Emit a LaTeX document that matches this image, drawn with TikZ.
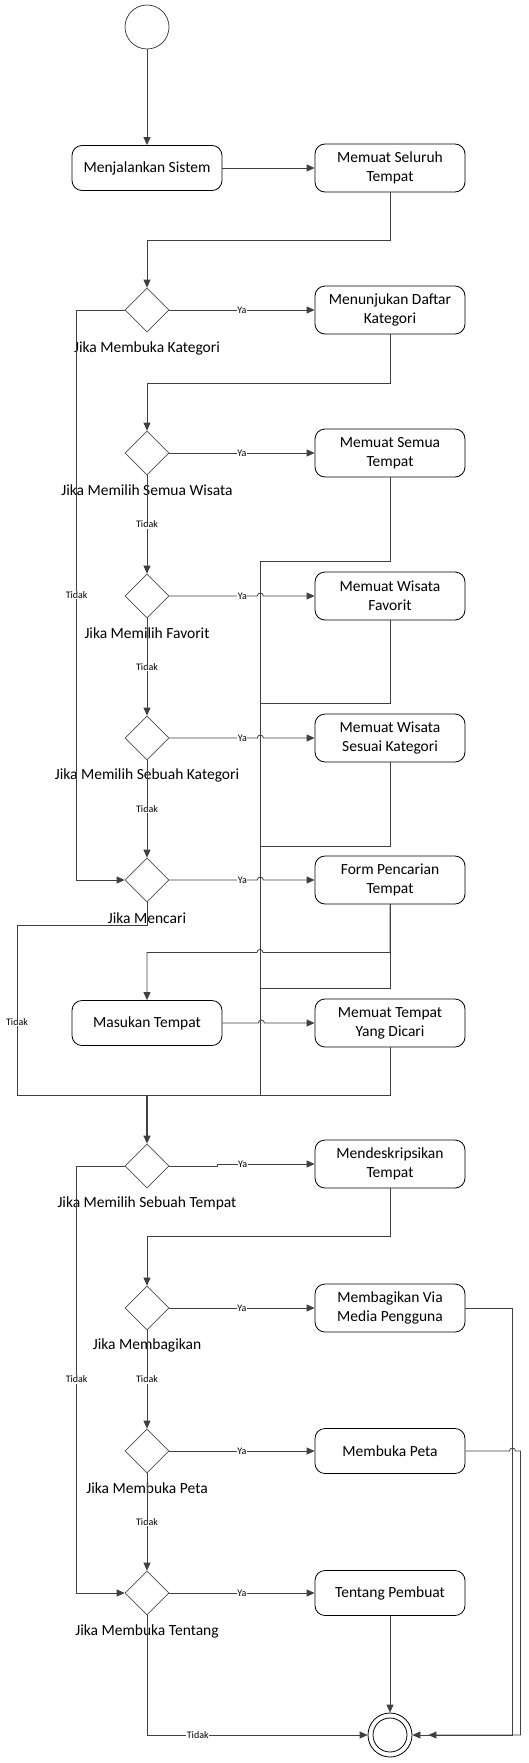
\documentclass[tikz,border=0pt]{standalone}
\usepackage{fontspec}
\setmainfont{Carlito}
\usetikzlibrary{shapes.geometric,arrows.meta,calc}
\begin{document}
\begin{tikzpicture}[x=1pt,y=-1pt,
 act/.style={draw=black, rounded corners=10pt, minimum width=150pt, minimum height=48pt, align=center, font=\fontsize{15.5}{19}\selectfont, inner sep=0pt, line width=0.8pt},
 act1/.style={act, minimum height=45pt},
 dec/.style={draw=black!70, diamond, minimum width=44pt, minimum height=44pt, inner sep=0pt, line width=0.7pt},
 dlab/.style={font=\fontsize{15.5}{19}\selectfont, inner sep=0pt},
 flow/.style={draw=black!75, line width=0.8pt},
 arr/.style={flow, -{Triangle[length=8pt,width=7pt]}},
 lab/.style={fill=white, font=\fontsize{10}{12}\selectfont, inner sep=0.6pt},
 startc/.style={circle, draw=black!80, minimum size=44pt, inner sep=0pt, line width=0.7pt},
]
\useasboundingbox (0,0) rectangle (528,1763);

% nodes
\node[startc] (start) at (147,27) {};
\node[act1] (sys) at (147,168) {Menjalankan Sistem};
\node[act] (all) at (390,168) {Memuat Seluruh\\Tempat};

\node[dec] (d1) at (147,310) {};
\node[dlab] (l1) at (147,348) {Jika Membuka Kategori};
\node[act] (kat) at (390,310) {Menunjukan Daftar\\Kategori};

\node[dec] (d2) at (147,453) {};
\node[dlab] (l2) at (147,490) {Jika Memilih Semua Wisata};
\node[act] (semua) at (390,453) {Memuat Semua\\Tempat};

\node[dec] (d3) at (147,596) {};
\node[dlab] (l3) at (147,633) {Jika Memilih Favorit};
\node[act] (fav) at (390,596) {Memuat Wisata\\Favorit};

\node[dec] (d4) at (147,738) {};
\node[dlab] (l4) at (147,775) {Jika Memilih Sebuah Kategori};
\node[act] (sesuai) at (390,738) {Memuat Wisata\\Sesuai Kategori};

\node[dec] (d5) at (147,880) {};
\node[dlab] (l5) at (147,918) {Jika Mencari};
\node[act] (form) at (390,880) {Form Pencarian\\Tempat};

\node[act1] (masuk) at (147,1023) {Masukan Tempat};
\node[act] (dicari) at (390,1023) {Memuat Tempat\\Yang Dicari};

\node[dec] (d6) at (147,1166) {};
\node[dlab] (l6) at (147,1203) {Jika Memilih Sebuah Tempat};
\node[act] (desk) at (390,1164) {Mendeskripsikan\\Tempat};

\node[dec] (d7) at (147,1308) {};
\node[dlab] (l7) at (147,1345) {Jika Membagikan};
\node[act] (bagi) at (390,1308) {Membagikan Via\\Media Pengguna};

\node[dec] (d8) at (147,1451) {};
\node[dlab] (l8) at (147,1488) {Jika Membuka Peta};
\node[act1] (peta) at (390,1451) {Membuka Peta};

\node[dec] (d9) at (147,1593) {};
\node[dlab] (l9) at (147,1631) {Jika Membuka Tentang};
\node[act1] (tentang) at (390,1593) {Tentang Pembuat};

\node[circle, draw=black, line width=0.8pt, minimum size=44pt, inner sep=0pt] (end) at (390,1735) {};
\node[circle, draw=black, line width=0.8pt, minimum size=34pt, inner sep=0pt] (endin) at (390,1735) {};

\coordinate (bus) at (260,1095);
\coordinate (merge) at (147,1095);
\coordinate (lb) at (17,1095);

% connectors
\draw[arr] (start) -- (sys);
\draw[arr] (sys) -- (all);
\draw[arr] (all.south) -- ++(0,48) -| (d1.north);
\draw[arr] (d1.east) -- node[lab]{Ya} (kat.west);
\draw[arr] (d1.west) -- ++(-48,0) |- node[lab,pos=0.25]{Tidak} (d5.west);

\draw[arr] (kat.south) -- ++(0,49) -| (d2.north);
\draw[arr] (d2.east) -- node[lab]{Ya} (semua.west);
\draw[arr] (d2.south) -- node[lab]{Tidak} (d3.north);

\draw[arr] (d3.east) -- node[lab,pos=0.83]{Ya} ++(88,0) arc[start angle=180,end angle=0,radius=3pt] -- (fav.west);
\draw[arr] (d3.south) -- node[lab]{Tidak} (d4.north);

\draw[arr] (d4.east) -- node[lab,pos=0.83]{Ya} ++(88,0) arc[start angle=180,end angle=0,radius=3pt] -- (sesuai.west);
\draw[arr] (d4.south) -- node[lab]{Tidak} (d5.north);

\draw[arr] (d5.east) -- node[lab,pos=0.83]{Ya} ++(88,0) arc[start angle=180,end angle=0,radius=3pt] -- (form.west);

% merge bus
\draw[flow] (semua.south) -- ++(0,84) -| (bus) -- (merge);
\draw[flow] (fav.south) -- ++(0,83) -| (bus) -- (merge);
\draw[flow] (sesuai.south) -- ++(0,84) -| (bus) -- (merge);
\draw[flow] (form.south) -- ++(0,84) -| (bus) -- (merge);
\draw[flow] (dicari.south) |- (merge);
\draw[flow] (d5.south) -- ++(0,23) -| node[lab,pos=0.785]{Tidak} (lb) -- (merge);

\draw[arr] (form.south) -- ++(0,48) -- ++(-127,0) arc[start angle=0,end angle=180,radius=3pt] -| (masuk.north);
\draw[arr] (masuk.east) -- ++(36,0) arc[start angle=180,end angle=0,radius=3pt] -- (dicari.west);

\draw[arr, line width=1.3pt] (merge) -- (d6.north);

\draw[arr] (d6.east) -- ++(48,0) |- node[lab,pos=0.63]{Ya} (desk.west);
\draw[arr] (d6.west) -- ++(-48,0) |- node[lab,pos=0.25]{Tidak} (d9.west);

\draw[arr] (desk.south) -- ++(0,48) -| (d7.north);
\draw[arr] (d7.east) -- node[lab]{Ya} (bagi.west);
\draw[arr] (d7.south) -- node[lab]{Tidak} (d8.north);
\draw[arr] (d8.east) -- node[lab]{Ya} (peta.west);
\draw[arr] (d8.south) -- node[lab]{Tidak} (d9.north);
\draw[arr] (d9.east) -- node[lab]{Ya} (tentang.west);

\draw[arr] (tentang.south) -- (end.north);
\draw[arr] (d9.south) |- node[lab,pos=0.615]{Tidak} (end.west);
\draw[arr] (bagi.east) -- ++(47,0) |- (end.east);
\draw[arr] (peta.east) -- ++(44,0) arc[start angle=180,end angle=0,radius=3pt] -- ++(5,0) |- ([xshift=16pt]end.east);
\end{tikzpicture}
\end{document}
